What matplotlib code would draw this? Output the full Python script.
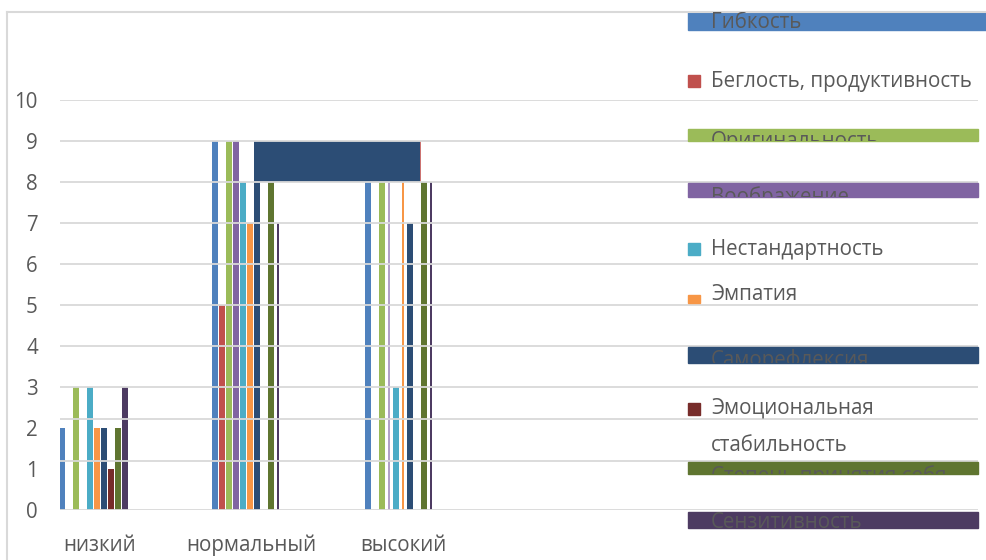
import numpy as np
import matplotlib
matplotlib.use("Agg")
from matplotlib import pyplot as plt
from matplotlib.patches import Rectangle
from matplotlib.transforms import Bbox, TransformedBbox

plt.rcParams['font.family'] = ['Open Sans', 'DejaVu Sans']

categories = ['низкий', 'нормальный', 'высокий']
series = ['Гибкость', 'Беглость, продуктивность', 'Оригинальность', 'Воображение',
          'Нестандартность', 'Эмпатия', 'Саморефлексия',
          'Эмоциональная\nстабильность', 'Степень принятия себя', 'Сензитивность']
values = [
    [2, 9, 8],   # Гибкость
    [0, 5, 0],   # Беглость, продуктивность
    [3, 9, 8],   # Оригинальность
    [0, 9, 8],   # Воображение
    [3, 8, 3],   # Нестандартность
    [2, 7, 8],   # Эмпатия
    [2, 8, 7],   # Саморефлексия
    [1, 0, 0],   # Эмоциональная стабильность
    [2, 8, 8],   # Степень принятия себя
    [3, 7, 8],   # Сензитивность
]
y_ticks = list(range(0, 11))
grid_levels = [0, 1.2, 2.22, 3, 4, 5, 6, 7, 8, 9, 10]

colors = ['#4F81BD', '#C0504D', '#9BBB59', '#8064A2', '#4BACC6',
          '#F79646', '#2C4D75', '#772C2A', '#5F7530', '#4D3B62']
# bars that the reference shows only as hairlines (group, series)
thin = {(1, 9), (2, 3), (2, 5), (2, 9)}
FS = 14.8

W, H = 986, 560
fig = plt.figure(figsize=(W / 100, H / 100), dpi=100)

px = 151.5  # pixels per category step
ax = fig.add_axes([60 / W, 50 / H, (978 - 60) / W, 410 / H])
ax.set_xlim((60 - 100) / px, (978 - 100) / px)
ax.set_ylim(0, 10)

x = np.arange(len(categories))
bw = 6.8 / px
for i, vals in enumerate(values):
    centers = x + (7 * i - 38 + 1.5 * x) / px
    for g in range(len(categories)):
        if vals[g] == 0:
            continue
        w = 1.6 / px if (g, i) in thin else bw
        a = 0.6 if (g, i) == (2, 3) else 1
        ax.bar(centers[g], vals[g], width=w, color=colors[i], alpha=a, zorder=2)

# the stray band between the middle and the right group
left = x[1] + 2 / px
right = x[2] + 17 / px
ax.bar(left, values[0][1] - values[6][1], bottom=values[6][1], width=right - left,
       align='edge', color=colors[6], zorder=2)
ax.bar(right, values[0][1] - values[6][1], bottom=values[6][1], width=1.5 / px,
       align='edge', color=colors[1], alpha=0.8, zorder=2)

for lv in grid_levels:
    ax.axhline(lv, color='#D9D9D9', lw=1.3, zorder=3)

ax.set_yticks(y_ticks)
ax.set_xticks(x)
ax.set_xticklabels(categories)
ax.tick_params(length=0, labelsize=FS, colors='#595959')
ax.tick_params(axis='y', pad=16)
ax.tick_params(axis='x', pad=18)
for s in ax.spines.values():
    s.set_visible(False)

# overlay in pixel coordinates for frame and legend
ov = fig.add_axes([0, 0, 1, 1], zorder=5)
ov.set_xlim(0, W)
ov.set_ylim(H, 0)
ov.axis('off')
ov.plot([6.5, 6.5], [12, H], color='#D9D9D9', lw=1.5)
ov.plot([6.5, W], [12, 12], color='#D9D9D9', lw=1.5)

# legend: (kind, top, bottom, text y, right end)
leg = [
    ('band', 12, 30, 23, 986),
    ('sq', 75, 87, 81, 0),
    ('band', 129, 141, 141, 978),
    ('band', 183, 197, 197, 978),
    ('sq', 243, 255, 249, 0),
    ('sq', 295, 303, 295, 0),
    ('band', 347, 363, 360, 978),
    ('sq', 403, 415, 427, 0),
    ('band', 462, 474, 476, 978),
    ('band', 512, 528, 523, 978),
]
for i, (kind, top, bot, ty, rx) in enumerate(leg):
    if kind == 'band':
        ov.add_patch(Rectangle((688, top), rx - 688, bot - top, color=colors[i]))
        t = ov.text(711, ty, series[i], fontsize=FS, color='#595959',
                    va='center', ha='left')
        t.set_clip_box(TransformedBbox(Bbox([[688, top], [rx, bot]]), ov.transData))
        t.set_clip_on(True)
    else:
        ov.add_patch(Rectangle((688, top), 12, bot - top, color=colors[i]))
        ov.text(711, ty, series[i], fontsize=FS, color='#595959',
                va='center', ha='left', linespacing=2.05)

fig.savefig('out.png', dpi=100)
